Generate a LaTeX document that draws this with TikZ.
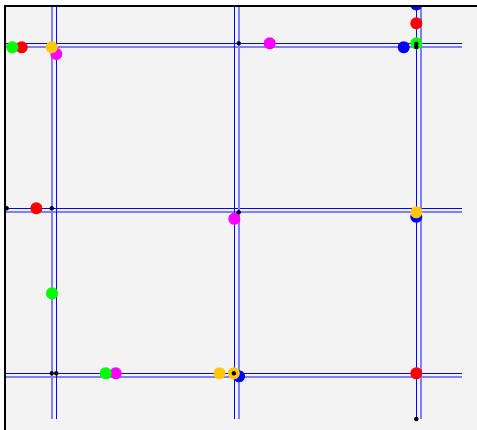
\documentclass[tikz,border=0pt]{standalone}
\begin{document}
\begin{tikzpicture}[x=1pt,y=-1pt,
  darkroad/.style={draw=pureblue, line width=1pt},
  lightroad/.style={draw=lightblue, line width=1.6pt},
  dot/.style={circle, inner sep=0pt, minimum size=12pt, draw=none},
  bdot/.style={circle, inner sep=0pt, minimum size=4.5pt, fill=black, draw=none}]
\definecolor{bggray}{HTML}{F3F3F3}
\definecolor{gold}{HTML}{FFC800}
\definecolor{puremagenta}{HTML}{FF00FF}
\definecolor{pureblue}{HTML}{0000FF}
\definecolor{purered}{HTML}{FF0000}
\definecolor{puregreen}{HTML}{00FF00}
\definecolor{lightblue}{HTML}{8080FF}
\useasboundingbox (0,0) rectangle (477,430);
\fill[bggray] (6,7) rectangle (477,430);
\begin{scope}
\clip (6,7) rectangle (477,430);
% horizontal roads
\draw[darkroad] (6,43.3) -- (462,43.3);
\draw[lightroad] (6,47.3) -- (462,47.3);
\draw[darkroad] (6,208.3) -- (462,208.3);
\draw[lightroad] (6,212.3) -- (462,212.3);
\draw[darkroad] (6,373.3) -- (462,373.3);
\draw[lightroad] (6,377.3) -- (462,377.3);
% vertical roads
\draw[lightroad] (51.7,7) -- (51.7,419);
\draw[darkroad] (56.3,7) -- (56.3,419);
\draw[darkroad] (234.3,7) -- (234.3,419);
\draw[lightroad] (239,7) -- (239,419);
\draw[darkroad] (416.3,7) -- (416.3,419);
\draw[lightroad] (421,7) -- (421,419);
% blue dots
\node[dot, fill=pureblue] (b1) at (416.3,4.5) {};
\node[dot, fill=pureblue] (b2) at (403.7,47.3) {};
\node[dot, fill=pureblue] (b3) at (416.3,216.8) {};
\node[dot, fill=pureblue] (b4) at (239,376.3) {};
% red dots
\node[dot, fill=purered] (r1) at (21.7,47.3) {};
\node[dot, fill=purered] (r2) at (416.3,23.3) {};
\node[dot, fill=purered] (r3) at (36.3,208.3) {};
\node[dot, fill=purered] (r4) at (416.3,373.3) {};
% magenta dots
\node[dot, fill=puremagenta] (m1) at (56.3,54) {};
\node[dot, fill=puremagenta] (m2) at (269.7,43.3) {};
\node[dot, fill=puremagenta] (m3) at (234.3,218.8) {};
\node[dot, fill=puremagenta] (m4) at (115.7,373.3) {};
% yellow dots
\node[dot, fill=gold] (y1) at (51.7,47.3) {};
\node[dot, fill=gold] (y2) at (416.3,212.3) {};
\node[dot, fill=gold] (y3) at (219.5,373.3) {};
\node[dot, fill=gold] (y4) at (233.8,373.3) {};
% green dots
\node[dot, fill=puregreen] (g1) at (12.3,47.3) {};
\node[dot, fill=puregreen] (g2) at (416.3,43.3) {};
\node[dot, fill=puregreen] (g3) at (52,293.3) {};
\node[dot, fill=puregreen] (g4) at (105.7,373.3) {};
% black dots
\node[bdot] (k1) at (238.7,43.3) {};
\node[bdot] (k2) at (416.3,43.8) {};
\node[bdot] (k3) at (416.3,47) {};
\node[bdot] (k4) at (6.7,208.3) {};
\node[bdot] (k5) at (51.7,208.3) {};
\node[bdot] (k6) at (238.7,212.3) {};
\node[bdot] (k7) at (51.7,373.3) {};
\node[bdot] (k8) at (56.3,373.3) {};
\node[bdot] (k9) at (233.8,373.3) {};
\node[bdot] (k10) at (416.3,419) {};
\end{scope}
% border
\draw[black, line width=2pt] (5,430) -- (5,6) -- (477,6);
\end{tikzpicture}
\end{document}
